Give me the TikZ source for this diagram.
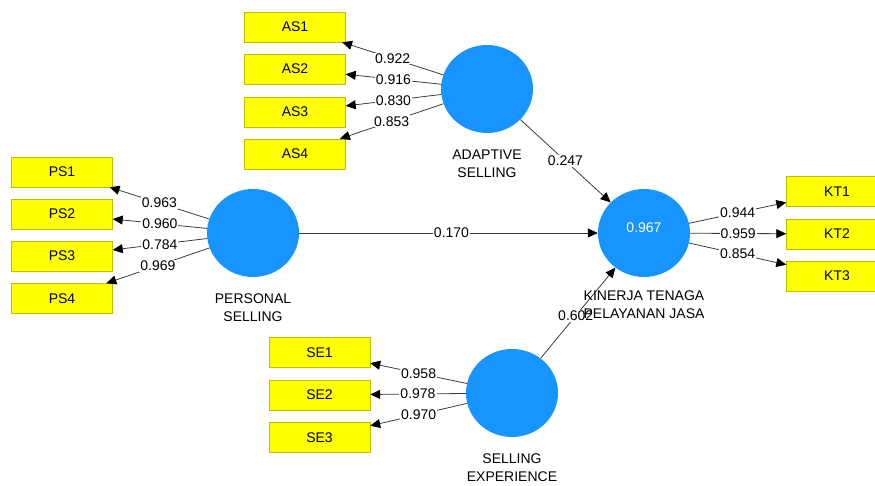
\documentclass[tikz,border=0pt]{standalone}
\usepackage{fontspec}
\setmainfont{Liberation Sans}
\usetikzlibrary{arrows.meta,shapes.geometric}
\definecolor{indfill}{RGB}{255,255,0}
\definecolor{indline}{RGB}{190,190,0}
\definecolor{lvfill}{RGB}{24,148,255}
\definecolor{pathline}{RGB}{60,60,60}
\begin{document}
\begin{tikzpicture}[x=1pt,y=-1pt,
	ind/.style={draw=indline,fill=indfill,minimum width=101pt,minimum height=30pt,inner sep=0pt,font=\fontsize{14}{16}\selectfont},
	lv/.style={ellipse,fill=lvfill,minimum width=92pt,minimum height=88pt,inner sep=0pt},
	lvname/.style={align=center,font=\fontsize{14}{18}\selectfont},
	coef/.style={fill=white,inner sep=1pt,font=\fontsize{14}{16}\selectfont},
	load/.style={draw=pathline,line width=0.8pt,-{Triangle[length=10pt,width=9pt,color=black]}}]
	\useasboundingbox (0,0) rectangle (875,486);
	\clip (0,0) rectangle (875,486);
	% latent variables
	\node[lv] (adaptive) at (487,89) {};
	\node[lv] (personal) at (253,233) {};
	\node[lv,text=white,text depth=10pt,font=\fontsize{14}{16}\selectfont] (kinerja) at (644,233) {0.967};
	\node[lv] (experience) at (512,393) {};
	% indicators
	\node[ind] (as1) at (295,27) {AS1};
	\node[ind] (as2) at (295,69) {AS2};
	\node[ind] (as3) at (295,112) {AS3};
	\node[ind] (as4) at (295,154) {AS4};
	\node[ind] (ps1) at (62,172) {PS1};
	\node[ind] (ps2) at (62,214) {PS2};
	\node[ind] (ps3) at (62,256) {PS3};
	\node[ind] (ps4) at (62,298.5) {PS4};
	\node[ind] (se1) at (319.5,352.5) {SE1};
	\node[ind] (se2) at (319.5,395) {SE2};
	\node[ind] (se3) at (319.5,437.5) {SE3};
	\node[ind] (kt1) at (837,191.5) {KT1};
	\node[ind] (kt2) at (837,234) {KT2};
	\node[ind] (kt3) at (837,276) {KT3};
	% loadings
	\draw[load] (adaptive) -- node[coef] {0.922} (as1);
	\draw[load] (adaptive) -- node[coef] {0.916} (as2);
	\draw[load] (adaptive) -- node[coef] {0.830} (as3);
	\draw[load] (adaptive) -- node[coef] {0.853} (as4);
	\draw[load] (personal) -- node[coef] {0.963} (ps1);
	\draw[load] (personal) -- node[coef] {0.960} (ps2);
	\draw[load] (personal) -- node[coef] {0.784} (ps3);
	\draw[load] (personal) -- node[coef] {0.969} (ps4);
	\draw[load] (experience) -- node[coef] {0.958} (se1);
	\draw[load] (experience) -- node[coef] {0.978} (se2);
	\draw[load] (experience) -- node[coef] {0.970} (se3);
	\draw[load] (kinerja) -- node[coef] {0.944} (kt1);
	\draw[load] (kinerja) -- node[coef] {0.959} (kt2);
	\draw[load] (kinerja) -- node[coef] {0.854} (kt3);
	% paths
	\draw[load] (adaptive) -- node[coef] {0.247} (kinerja);
	\draw[load] (personal) -- node[coef,pos=0.51] {0.170} (kinerja);
	\draw[load] (experience) -- node[coef,pos=0.47] {0.602} (kinerja);
	% names
	\node[lvname] (adaptive-name) at (487,164) {ADAPTIVE\\SELLING};
	\node[lvname] (personal-name) at (253,308) {PERSONAL\\SELLING};
	\node[lvname] (kinerja-name) at (644,305) {KINERJA TENAGA\\PELAYANAN JASA};
	\node[lvname] (experience-name) at (512,468) {SELLING\\EXPERIENCE};
\end{tikzpicture}
\end{document}
